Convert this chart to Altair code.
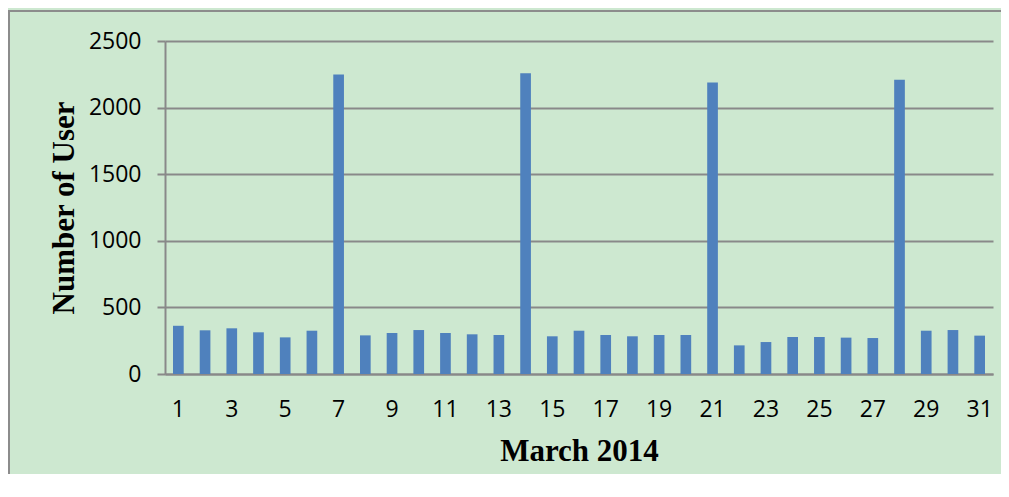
import altair as alt
import pandas as pd

days = list(range(1, 32))
users = [362, 328, 343, 313, 275, 325, 2248, 290, 308, 330, 308, 298, 293, 2258, 283,
         325, 293, 283, 293, 293, 2188, 215, 240, 278, 278, 273, 270, 2210, 325, 330, 288]
y_ticks = [0, 500, 1000, 1500, 2000, 2500]
x_labels = list(range(1, 32, 2))

df = pd.DataFrame({"day": days, "users": users})

GRID = "#898989"
BG = "#cde8d0"
LABEL_FONT = "Open Sans"
TITLE_FONT = "Liberation Serif"

bars = alt.Chart(df).mark_bar(color="#4f81bd").encode(
    x=alt.X("day:O", sort=None,
            scale=alt.Scale(paddingInner=0.6, paddingOuter=0.3),
            axis=alt.Axis(values=x_labels, labelAngle=0, ticks=False,
                          labelFont=LABEL_FONT, labelFontSize=23, labelColor="#000000",
                          labelPadding=24, domainColor=GRID, domainWidth=2,
                          title="March 2014", titleFont=TITLE_FONT, titleFontSize=31,
                          titleFontWeight="bold", titleColor="#000000",
                          titleBaseline="alphabetic", titleY=86)),
    y=alt.Y("users:Q", scale=alt.Scale(domain=[0, 2500], nice=False),
            axis=alt.Axis(values=y_ticks, format="d", grid=True, gridColor=GRID, gridWidth=2,
                          tickColor=GRID, tickWidth=2, tickSize=8,
                          domainColor=GRID, domainWidth=2,
                          labelFont=LABEL_FONT, labelFontSize=23, labelColor="#000000",
                          labelPadding=16,
                          title="Number of User", titleFont=TITLE_FONT, titleFontSize=31,
                          titleFontWeight="bold", titleColor="#000000",
                          titleBaseline="alphabetic", titleX=-92, titleY=166.5,
                          titleAngle=270)),
)

frame_df = pd.DataFrame({"k": [0]})
top_border = alt.Chart(frame_df).mark_rule(color="#8c8c8c", strokeWidth=2).encode(
    x=alt.value(-157), x2=alt.value(850), y=alt.value(-30))
left_border = alt.Chart(frame_df).mark_rule(color="#8c8c8c", strokeWidth=2).encode(
    x=alt.value(-156), y=alt.value(-31), y2=alt.value(460))

chart = alt.layer(bars, top_border, left_border).properties(
    width=828, height=333,
    autosize=alt.AutoSizeParams(type="none"),
    padding={"left": 157, "top": 33, "right": 8, "bottom": 100},
    background=BG,
).configure_view(stroke=None)

chart.save("out.html", embed_options={"renderer": "svg", "actions": False})
